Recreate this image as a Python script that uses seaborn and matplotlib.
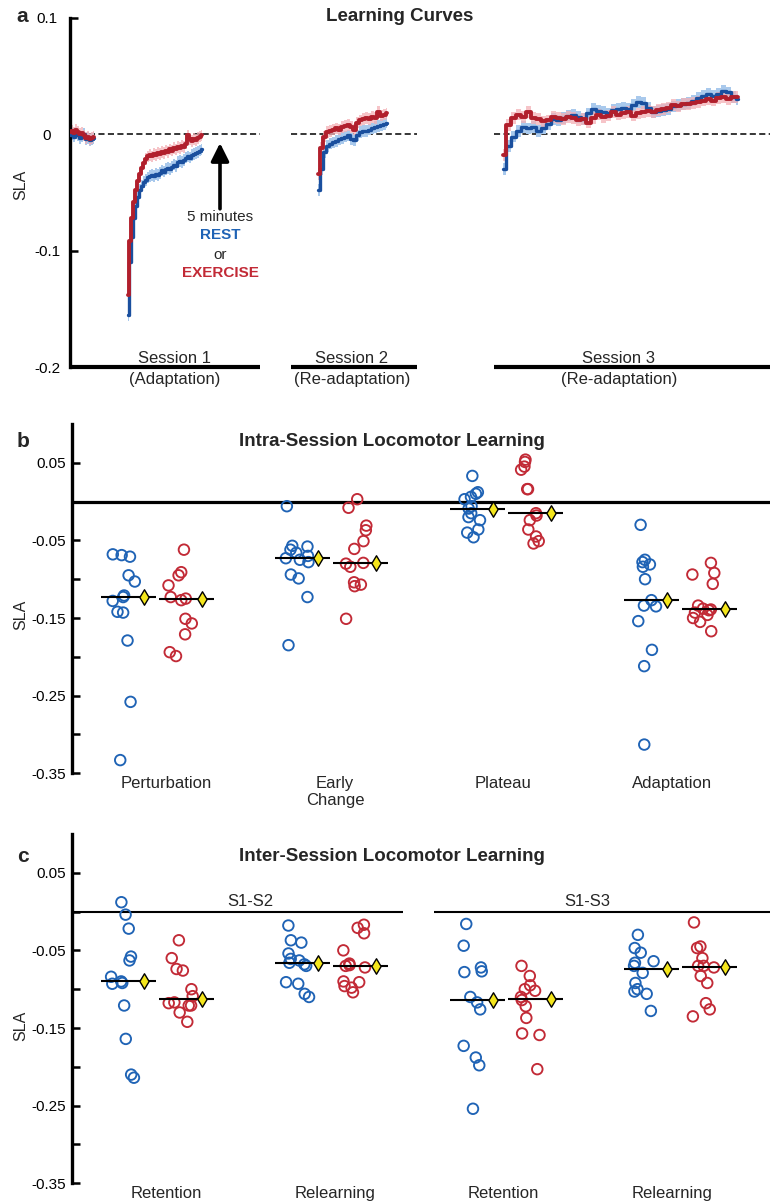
import numpy as np
import pandas as pd
import matplotlib
matplotlib.use("Agg")
import matplotlib.pyplot as plt
import seaborn as sns

# ---------------- Panel a: mean SLA learning curves (per stride bin) ----------------
base_rest = [-0.001, 0.000, -0.002, 0.001, -0.001, -0.003, -0.002, 0.000, -0.004, -0.003, -0.005, -0.004, -0.003]
base_ex = [0.002, 0.003, 0.001, 0.004, 0.002, 0.000, 0.001, -0.001, -0.003, -0.002, -0.004, -0.003, -0.002]

s1_rest = [-0.155, -0.110, -0.088, -0.072, -0.062, -0.054, -0.048, -0.044, -0.041, -0.039,
           -0.037, -0.036, -0.035, -0.036, -0.034, -0.035, -0.033, -0.031, -0.032, -0.030,
           -0.029, -0.030, -0.028, -0.026, -0.027, -0.024, -0.023, -0.024, -0.022, -0.020,
           -0.019, -0.020, -0.018, -0.017, -0.016, -0.015, -0.014, -0.013]
s1_ex = [-0.138, -0.092, -0.072, -0.058, -0.048, -0.040, -0.034, -0.029, -0.025, -0.021,
         -0.019, -0.018, -0.019, -0.017, -0.018, -0.016, -0.017, -0.015, -0.016, -0.014,
         -0.015, -0.013, -0.014, -0.012, -0.013, -0.011, -0.012, -0.010, -0.011, -0.008,
         -0.001, -0.004, -0.006, -0.004, -0.005, -0.003, -0.002, -0.001]

s2_rest = [-0.048, -0.030, -0.015, -0.010, -0.008, -0.007, -0.006, -0.004, -0.003, -0.002,
           -0.001, -0.004, -0.005, -0.001, 0.002, 0.003, 0.003, 0.004, 0.005, 0.006,
           0.007, 0.008, 0.009, 0.010]
s2_ex = [-0.034, -0.012, -0.002, 0.002, 0.003, 0.004, 0.005, 0.004, 0.006, 0.007,
         0.008, 0.006, 0.004, 0.010, 0.012, 0.013, 0.014, 0.013, 0.015, 0.014,
         0.019, 0.016, 0.017, 0.018]

s3_rest = [-0.030, -0.010, -0.002, 0.003, 0.006, 0.005, 0.006, 0.003, 0.005, 0.009,
           0.013, 0.012, 0.014, 0.016, 0.017, 0.015, 0.013, 0.018, 0.022, 0.020,
           0.019, 0.018, 0.021, 0.022, 0.023, 0.022, 0.025, 0.028, 0.027, 0.023,
           0.019, 0.020, 0.021, 0.022, 0.024, 0.025, 0.026, 0.027, 0.029, 0.031,
           0.033, 0.035, 0.033, 0.035, 0.037, 0.036, 0.032, 0.030]
s3_ex = [-0.018, 0.008, 0.014, 0.017, 0.015, 0.019, 0.014, 0.013, 0.011, 0.012,
         0.015, 0.014, 0.013, 0.015, 0.014, 0.012, 0.013, 0.010, 0.014, 0.017,
         0.015, 0.016, 0.019, 0.017, 0.018, 0.019, 0.016, 0.018, 0.019, 0.020,
         0.019, 0.021, 0.022, 0.023, 0.025, 0.024, 0.026, 0.026, 0.027, 0.028,
         0.029, 0.030, 0.029, 0.031, 0.032, 0.030, 0.032, 0.032]
curve_se = 0.005

session_names = ["Session 1", "Session 2", "Session 3"]
session_sub = ["(Adaptation)", "(Re-adaptation)", "(Re-adaptation)"]

# ---------------- Panel b: intra-session measures ----------------
intra_labels = ["Perturbation", "Early\nChange", "Plateau", "Adaptation"]
pert_rest = [-0.068, -0.071, -0.069, -0.095, -0.103, -0.121, -0.123, -0.128, -0.142, -0.143, -0.179, -0.258, -0.333]
pert_ex = [-0.062, -0.091, -0.095, -0.108, -0.123, -0.125, -0.127, -0.151, -0.157, -0.171, -0.194, -0.199]
early_rest = [-0.006, -0.057, -0.058, -0.062, -0.066, -0.070, -0.073, -0.075, -0.078, -0.094, -0.099, -0.123, -0.185]
early_ex = [0.003, -0.008, -0.031, -0.037, -0.051, -0.061, -0.079, -0.080, -0.084, -0.104, -0.107, -0.109, -0.151]
plateau_rest = [0.033, 0.012, 0.010, 0.006, 0.003, -0.006, -0.009, -0.015, -0.020, -0.024, -0.036, -0.040, -0.046]
plateau_ex = [0.054, 0.051, 0.045, 0.041, 0.016, 0.016, -0.015, -0.018, -0.024, -0.036, -0.045, -0.051, -0.054]
adapt_rest = [-0.030, -0.075, -0.078, -0.081, -0.084, -0.100, -0.127, -0.134, -0.135, -0.154, -0.191, -0.212, -0.313]
adapt_ex = [-0.079, -0.092, -0.094, -0.106, -0.134, -0.138, -0.139, -0.140, -0.143, -0.146, -0.150, -0.155, -0.167]

# ---------------- Panel c: inter-session measures ----------------
inter_labels = ["Retention", "Relearning", "Retention", "Relearning"]
ret12_rest = [0.012, -0.004, -0.022, -0.058, -0.063, -0.084, -0.090, -0.092, -0.093, -0.121, -0.164, -0.210, -0.214]
ret12_ex = [-0.037, -0.060, -0.074, -0.076, -0.100, -0.109, -0.117, -0.118, -0.121, -0.121, -0.130, -0.142]
rel12_rest = [-0.018, -0.037, -0.040, -0.054, -0.061, -0.063, -0.066, -0.068, -0.070, -0.091, -0.093, -0.106, -0.110]
rel12_ex = [-0.017, -0.021, -0.028, -0.050, -0.067, -0.069, -0.070, -0.072, -0.090, -0.091, -0.096, -0.098, -0.104]
ret13_rest = [-0.016, -0.044, -0.072, -0.077, -0.078, -0.110, -0.117, -0.126, -0.173, -0.188, -0.198, -0.254]
ret13_ex = [-0.070, -0.083, -0.095, -0.100, -0.102, -0.110, -0.114, -0.122, -0.137, -0.157, -0.159, -0.203]
rel13_rest = [-0.030, -0.047, -0.053, -0.064, -0.066, -0.070, -0.079, -0.092, -0.100, -0.103, -0.106, -0.128]
rel13_ex = [-0.014, -0.045, -0.047, -0.060, -0.070, -0.070, -0.072, -0.083, -0.092, -0.118, -0.126, -0.135]
inter_groups = ["S1-S2", "S1-S3"]

# ---------------- styling ----------------
sns.set_style("ticks")
plt.rcParams['font.family'] = ['Liberation Sans', 'DejaVu Sans']

REST_C = '#1f63b5'
EX_C = '#c22a36'
REST_LINE = '#1a4f9e'
EX_LINE = '#b11f2c'
REST_BAND = '#a9c9ec'
EX_BAND = '#f3b0b6'
YELLOW = '#f4e61c'

W, H = 772, 1201
fig = plt.figure(figsize=(W / 100, H / 100), dpi=100)


def px_rect(l, t, r, b):
    return [l / W, 1 - b / H, (r - l) / W, (b - t) / H]


def ftext(x, y, s, **kw):
    fig.text(x / W, 1 - y / H, s, ha='center', va='center', **kw)


# ================= Panel a =================
axA = fig.add_axes(px_rect(70, 17.9, 770, 367.1))
axA.set_xlim(70, 770)
axA.set_ylim(-0.2, 0.1)

segments = [
    (70, 2, base_rest, base_ex),
    (128, 2, s1_rest, s1_ex),
    (318, 3, s2_rest, s2_ex),
    (503, 5, s3_rest, s3_ex),
]
session_spans = [(70, 260), (291, 417), (494, 770)]
for (x0, x1) in session_spans:
    axA.hlines(0, x0, x1, colors='k', linestyles=(0, (4, 2.2)), lw=1.1, zorder=1)
    axA.hlines(-0.2, x0, x1, colors='k', lw=3.0, clip_on=False, zorder=5)

for start, step, r, e in segments:
    xs = start + step * np.arange(len(r))
    r = np.asarray(r); e = np.asarray(e)
    axA.fill_between(xs, r - curve_se, r + curve_se, step='mid', color=REST_BAND, lw=0, zorder=2)
    axA.fill_between(xs, e - curve_se, e + curve_se, step='mid', color=EX_BAND, lw=0, alpha=0.75, zorder=2)
for start, step, r, e in segments:
    xs = start + step * np.arange(len(r))
    sns.lineplot(x=xs, y=r, estimator=None, ax=axA, color=REST_LINE, lw=2.4,
                 drawstyle='steps-mid', zorder=3)
    sns.lineplot(x=xs, y=e, estimator=None, ax=axA, color=EX_LINE, lw=2.8,
                 drawstyle='steps-mid', zorder=4)

label_x = [175, 352, 619]
for lx, nm, sub in zip(label_x, session_names, session_sub):
    axA.text(lx, -0.1925, nm, ha='center', va='center', fontsize=12, clip_on=False)
    axA.text(lx, -0.2105, sub, ha='center', va='center', fontsize=12, clip_on=False)

axA.annotate('', xy=(220, -0.0075), xytext=(220, -0.064),
             arrowprops=dict(arrowstyle='-|>,head_length=0.6,head_width=0.3',
                             lw=2.6, color='k', mutation_scale=18,
                             shrinkA=0, shrinkB=0))
axA.text(220, -0.0710, '5 minutes', ha='center', va='center', fontsize=11)
axA.text(220, -0.0865, 'REST', ha='center', va='center', fontsize=11,
         fontweight='bold', color=REST_C)
axA.text(220, -0.1034, 'or', ha='center', va='center', fontsize=11)
axA.text(220, -0.1189, 'EXERCISE', ha='center', va='center', fontsize=11,
         fontweight='bold', color=EX_C)

axA.set_yticks([0.1, 0, -0.1, -0.2])
axA.set_yticklabels(['0.1', '0', '-0.1', '-0.2'])
axA.tick_params(axis='y', direction='in', length=5.5, width=1.8, pad=16.5,
                labelsize=11, left=True, colors='k')
for t in axA.get_yticklabels():
    t.set_horizontalalignment('center')
axA.set_xticks([])
axA.set_xlabel('')
axA.set_ylabel('')
for s in ['top', 'right', 'bottom']:
    axA.spines[s].set_visible(False)
axA.spines['left'].set_linewidth(2.4)
axA.spines['left'].set_color('k')

ftext(22, 16, 'a', fontsize=15, fontweight='bold')
ftext(399.5, 16.7, 'Learning Curves', fontsize=13.5, fontweight='bold')
ftext(21, 185, 'SLA', fontsize=11.5, rotation=90)

# ================= Panels b & c =================
REST_OFF = -0.20
EX_OFF = 0.13
REST_LINE_C = -0.169
EX_LINE_C = 0.164
HALF = 0.158
REST_DIA = -0.080
EX_DIA = 0.252
XLIM = (-0.4934, 3.511)
label_pos = [0.046, 1.016, 1.979, 2.949]

np.random.seed(7)


def strip_panel(ax, rest_groups, ex_groups, labels):
    pos_r, val_r, pos_e, val_e = [], [], [], []
    for i, (r, e) in enumerate(zip(rest_groups, ex_groups)):
        pos_r += [i + REST_OFF] * len(r)
        val_r += list(r)
        pos_e += [i + EX_OFF] * len(e)
        val_e += list(e)
    df_r = pd.DataFrame({'pos': pos_r, 'SLA': val_r})
    df_e = pd.DataFrame({'pos': pos_e, 'SLA': val_e})
    for df, col in ((df_r, REST_C), (df_e, EX_C)):
        sns.stripplot(data=df, x='pos', y='SLA', native_scale=True, orient='x',
                      jitter=0.07, size=7.6, color=col, edgecolor=col,
                      linewidth=1.35, facecolor='none', ax=ax, zorder=3)
    for i, (r, e) in enumerate(zip(rest_groups, ex_groups)):
        mr, me = np.median(r), np.median(e)
        ax.hlines(mr, i + REST_LINE_C - HALF, i + REST_LINE_C + HALF, colors='k', lw=1.5, zorder=4)
        ax.hlines(me, i + EX_LINE_C - HALF, i + EX_LINE_C + HALF, colors='k', lw=1.5, zorder=4)
        ax.scatter([i + REST_DIA], [mr], marker='d', s=62, facecolor=YELLOW,
                   edgecolor='k', linewidth=1.0, zorder=5)
        ax.scatter([i + EX_DIA], [me], marker='d', s=62, facecolor=YELLOW,
                   edgecolor='k', linewidth=1.0, zorder=5)
    ax.set_xlim(*XLIM)
    ax.set_ylim(-0.35, 0.1)
    ax.set_yticks([0.05, 0, -0.05, -0.1, -0.15, -0.2, -0.25, -0.3, -0.35])
    ax.set_yticklabels(['0.05', '', '-0.05', '', '-0.15', '', '-0.25', '', '-0.35'])
    ax.tick_params(axis='y', direction='in', length=5.5, width=1.8, pad=4,
                   labelsize=11, left=True, colors='k')
    ax.set_xticks(label_pos)
    ax.set_xticklabels(labels)
    ax.tick_params(axis='x', length=0, pad=2, labelsize=12, bottom=True)
    ax.set_xlabel('')
    ax.set_ylabel('')
    for s in ['top', 'right', 'bottom']:
        ax.spines[s].set_visible(False)
    ax.spines['left'].set_linewidth(2.4)
    ax.spines['left'].set_color('k')


axB = fig.add_axes(px_rect(72, 423.9, 770, 773.3))
strip_panel(axB,
            [pert_rest, early_rest, plateau_rest, adapt_rest],
            [pert_ex, early_ex, plateau_ex, adapt_ex],
            intra_labels)
axB.axhline(0, color='k', lw=2.3, zorder=2)
ftext(23, 441, 'b', fontsize=15, fontweight='bold')
ftext(392, 441.7, 'Intra-Session Locomotor Learning', fontsize=13.5, fontweight='bold')
ftext(21, 615, 'SLA', fontsize=11.5, rotation=90)

axC = fig.add_axes(px_rect(72, 833.9, 770, 1183.3))
strip_panel(axC,
            [ret12_rest, rel12_rest, ret13_rest, rel13_rest],
            [ret12_ex, rel12_ex, ret13_ex, rel13_ex],
            inter_labels)
axC.hlines(0, XLIM[0], 1.4056, colors='k', lw=1.5, zorder=2)
axC.hlines(0, 1.5835, XLIM[1], colors='k', lw=1.5, zorder=2)
axC.text(0.528, 0.0125, inter_groups[0], ha='center', va='center', fontsize=12)
axC.text(2.464, 0.0125, inter_groups[1], ha='center', va='center', fontsize=12)
ftext(23, 857, 'c', fontsize=15, fontweight='bold')
ftext(391.5, 856.7, 'Inter-Session Locomotor Learning', fontsize=13.5, fontweight='bold')
ftext(21, 1026, 'SLA', fontsize=11.5, rotation=90)

fig.savefig('out.png', dpi=100)
